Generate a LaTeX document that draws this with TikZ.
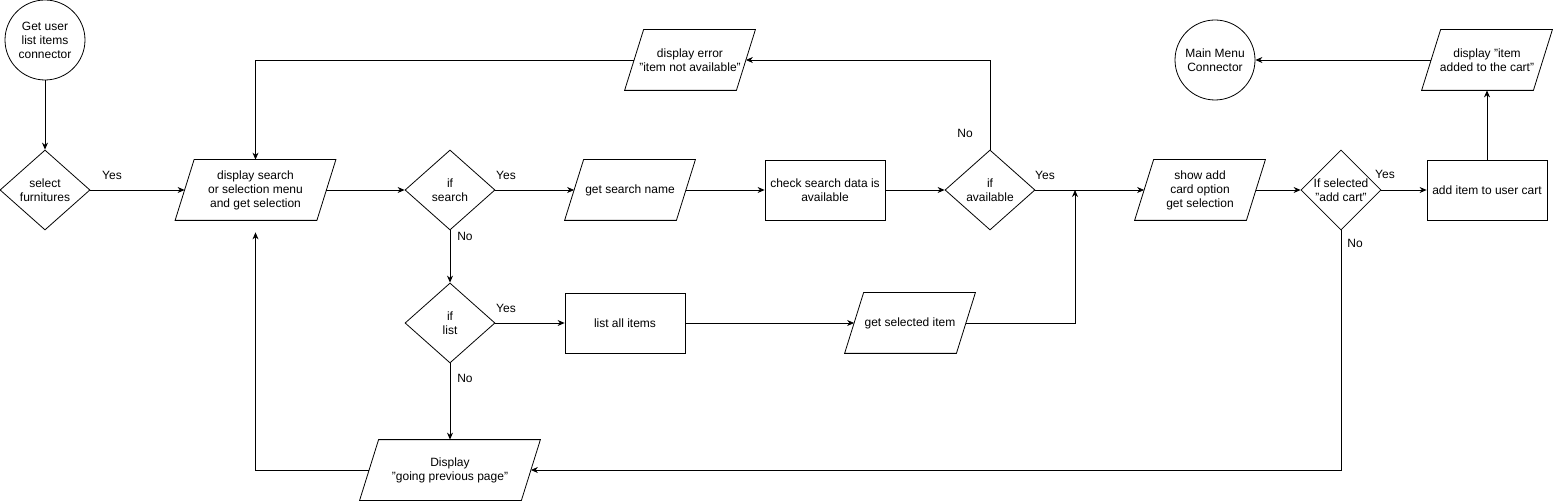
\documentclass[tikz,border=0pt]{standalone}
\usepackage{fontspec}
\setmainfont{Liberation Sans}
\usetikzlibrary{arrows.meta,positioning,shapes.geometric,calc}

\begin{document}
\begin{tikzpicture}[x=1pt, y=-1pt, line width=0.8pt,
          every node/.style={font=\fontsize{12}{14}\selectfont, align=center},
          conn/.style={circle,draw,minimum size=80pt,inner sep=0pt},
          dec/.style={diamond,draw,minimum width=90pt,minimum height=80pt,inner sep=0pt},
          io/.style={rectangle,minimum width=#1,minimum height=60pt,inner sep=1pt,
                     append after command={\pgfextra{\draw ([xshift=-9.5pt]\tikzlastnode.south west)
                       -- ([xshift=9.5pt]\tikzlastnode.north west) -- ([xshift=9.5pt]\tikzlastnode.north east)
                       -- ([xshift=-9.5pt]\tikzlastnode.south east) -- cycle;}}},
          proc/.style={rectangle,draw,minimum width=120pt,minimum height=60pt},
          lbl/.style={inner sep=0pt},
          flow/.style={-{Stealth[length=7pt,width=6pt]}}
      ]
        \useasboundingbox (0,0) rectangle (1553,502);
        \node[conn]          (start) at (45,40)     {Get user\\list items\\connector};
        \node[dec]           (furn)  at (45,190)    {select\\furnitures};
        \node[io=141pt]      (menu)  at (255.5,190) {display search\\or selection menu\\and get selection};
        \node[dec]           (ifs)   at (450,190)   {if\\search};
        \node[io=111pt]      (name)  at (630,190)   {get search name};
        \node[proc]          (check) at (825,190)   {check search data is\\available};
        \node[dec]           (ifa)   at (990,190)   {if\\available};
        \node[io=111pt]      (err)   at (690,60)    {display error\\"item not available"};
        \node[dec]           (ifl)   at (450,323)   {if\\list};
        \node[proc]          (list)  at (625,323)   {list all items};
        \node[io=111pt]      (sel)   at (910,323)   {get selected item};
        \node[io=161pt]      (back)  at (450,470)   {Display\\"going previous page"};
        \node[io=111pt]      (show)  at (1200,190)  {show add\\card option\\get selection};
        \node[dec,minimum width=80pt,inner sep=-4pt] (ifsel) at (1341,190) {If selected\\"add cart"};
        \node[proc]          (add)   at (1487,190)  {add item to user cart};
        \node[io=111pt]      (msg)   at (1487,60)   {display "item\\added to the cart"};
        \node[conn]          (main)  at (1215,60)   {Main Menu\\Connector};
        \coordinate (join) at (1075,190);

        \node[lbl] (y1) at (112,175)  {Yes};
        \node[lbl] (y2) at (506,175)  {Yes};
        \node[lbl] (n2) at (465,236)  {No};
        \node[lbl] (y3) at (506,308)  {Yes};
        \node[lbl] (n3) at (465,378)  {No};
        \node[lbl] (n4) at (965,133)  {No};
        \node[lbl] (y4) at (1045,175) {Yes};
        \node[lbl] (y5) at (1385,174) {Yes};
        \node[lbl] (n5) at (1355,243) {No};

        \draw[flow] (start) -- (furn);
        \draw[flow] (furn) -- (menu);
        \draw[flow] (menu) -- (ifs);
        \draw[flow] (ifs) -- (name);
        \draw[flow] (name) -- (check);
        \draw[flow] (check) -- (ifa);
        \draw[flow] (ifa.north) |- (err.east);
        \draw[flow] (err.west) -| (menu.north);
        \draw[flow] (ifs) -- (ifl);
        \draw[flow] (ifl) -- (list);
        \draw[flow] (list) -- (sel);
        \draw[flow] (sel.east) -| (join);
        \draw[flow] (ifl) -- (back);
        \draw[flow] (back.west) -| ([yshift=-12pt]menu.south);
        \draw[flow] (ifa) -- (show);
        \draw[flow] (show) -- (ifsel);
        \draw[flow] (ifsel) -- (add);
        \draw[flow] (add) -- (msg);
        \draw[flow] (msg) -- (main);
        \draw[flow] (ifsel.south) |- (back.east);
      \end{tikzpicture}
\end{document}
